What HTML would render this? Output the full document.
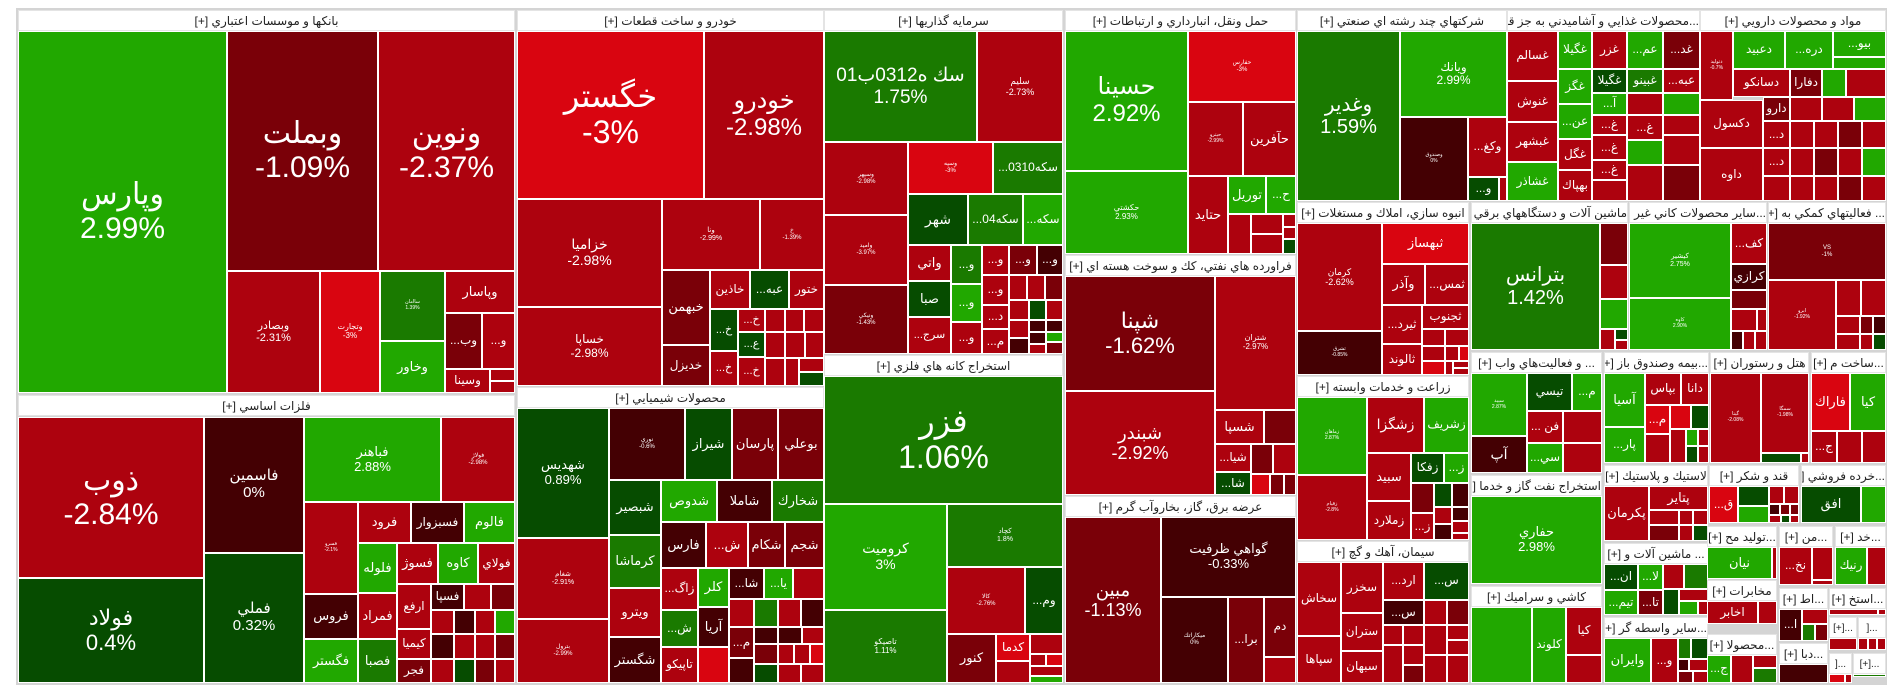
<!DOCTYPE html>
<html><head><meta charset="utf-8">
<style>
html,body{margin:0;padding:0;background:#fff;width:1904px;height:698px;overflow:hidden}
#bg{position:absolute;left:16px;top:8px;width:1871px;height:677px;background:#d4d4d4}
.t{position:absolute;box-sizing:border-box;border:1px solid #fff;color:#fff;display:flex;align-items:center;justify-content:center;text-align:center;font-family:"Liberation Sans","DejaVu Sans",sans-serif;font-size:12px;line-height:1.12;overflow:hidden;white-space:nowrap}
.h{position:absolute;box-sizing:border-box;height:21px;background:#fff;color:#222;font-family:"Liberation Sans","DejaVu Sans",sans-serif;font-size:12px;line-height:21px;text-align:center;overflow:hidden;white-space:nowrap;border:1px solid #e4e4e4;direction:rtl}
.a{background:#21a800}.b{background:#1a7a00}.c{background:#064c00}.d{background:#d90510}.e{background:#ad020e}.f{background:#7a0008}.k{background:#440003}
</style></head><body>
<div id="bg"></div>

<!-- Banks -->
<div class="h" style="left:18px;top:10px;width:497px">بانكها و موسسات اعتباري [+]</div>
<div class="t a" style="left:18px;top:31px;width:209px;height:362px;font-size:30px">وپارس<br>2.99%</div>
<div class="t f" style="left:227px;top:31px;width:151px;height:240px;font-size:30px">وبملت<br>-1.09%</div>
<div class="t e" style="left:378px;top:31px;width:137px;height:240px;font-size:30px">ونوين<br>-2.37%</div>
<div class="t e" style="left:227px;top:271px;width:93px;height:122px;font-size:11px">وبصادر<br>-2.31%</div>
<div class="t d" style="left:320px;top:271px;width:60px;height:122px;font-size:8px">وتجارت<br>-3%</div>
<div class="t b" style="left:380px;top:271px;width:65px;height:70px;font-size:5px">ساامان<br>1.39%</div>
<div class="t a" style="left:380px;top:341px;width:65px;height:52px;font-size:13px">وخاور</div>
<div class="t e" style="left:445px;top:271px;width:70px;height:42px;font-size:13px">وپاسار</div>
<div class="t f" style="left:445px;top:313px;width:37px;height:56px">...وب</div>
<div class="t e" style="left:482px;top:313px;width:33px;height:56px">...و</div>
<div class="t e" style="left:445px;top:369px;width:45px;height:24px">وسينا</div>
<div class="t e" style="left:490px;top:369px;width:25px;height:12px"></div>
<div class="t e" style="left:490px;top:381px;width:25px;height:12px"></div>

<!-- Metals -->
<div class="h" style="left:18px;top:395px;width:497px">فلزات اساسي [+]</div>
<div class="t e" style="left:18px;top:417px;width:186px;height:161px;font-size:30px">ذوب<br>-2.84%</div>
<div class="t c" style="left:18px;top:578px;width:186px;height:105px;font-size:22px">فولاد<br>0.4%</div>
<div class="t k" style="left:204px;top:417px;width:100px;height:136px;font-size:15px">فاسمين<br>0%</div>
<div class="t c" style="left:204px;top:553px;width:100px;height:130px;font-size:15px">فملي<br>0.32%</div>
<div class="t a" style="left:304px;top:417px;width:137px;height:85px;font-size:13px">فباهنر<br>2.88%</div>
<div class="t e" style="left:441px;top:417px;width:74px;height:85px;font-size:6px">فولاژ<br>-2.98%</div>
<div class="t e" style="left:304px;top:502px;width:54px;height:92px;font-size:5px">فسرو<br>-2.1%</div>
<div class="t k" style="left:304px;top:594px;width:54px;height:45px;font-size:13px">فروس</div>
<div class="t a" style="left:304px;top:639px;width:54px;height:44px;font-size:13px">فگستر</div>
<div class="t e" style="left:358px;top:502px;width:53px;height:41px;font-size:13px">فرود</div>
<div class="t k" style="left:411px;top:502px;width:53px;height:41px;font-size:12px">فسبزوار</div>
<div class="t a" style="left:464px;top:502px;width:51px;height:41px;font-size:13px">فالوم</div>
<div class="t a" style="left:358px;top:543px;width:39px;height:50px;font-size:13px">فلوله</div>
<div class="t e" style="left:358px;top:593px;width:39px;height:46px;font-size:13px">فمراد</div>
<div class="t b" style="left:358px;top:639px;width:39px;height:44px;font-size:13px">فصبا</div>
<div class="t e" style="left:397px;top:543px;width:41px;height:41px;font-size:13px">فسوژ</div>
<div class="t a" style="left:438px;top:543px;width:40px;height:41px;font-size:13px">كاوه</div>
<div class="t e" style="left:478px;top:543px;width:37px;height:41px;font-size:12px">فولاي</div>
<div class="t e" style="left:397px;top:584px;width:34px;height:45px;font-size:12px">ارفع</div>
<div class="t e" style="left:397px;top:629px;width:34px;height:30px;font-size:12px">كيميا</div>
<div class="t f" style="left:397px;top:659px;width:34px;height:24px;font-size:12px">فجر</div>
<div class="t k" style="left:431px;top:584px;width:33px;height:26px">فسپا</div>
<div class="t e" style="left:464px;top:584px;width:27px;height:26px"></div>
<div class="t f" style="left:491px;top:584px;width:24px;height:26px"></div>
<div class="t e" style="left:431px;top:610px;width:23px;height:24px"></div>
<div class="t k" style="left:454px;top:610px;width:21px;height:24px"></div>
<div class="t e" style="left:475px;top:610px;width:20px;height:24px"></div>
<div class="t a" style="left:495px;top:610px;width:20px;height:24px"></div>
<div class="t k" style="left:431px;top:634px;width:23px;height:25px"></div>
<div class="t e" style="left:454px;top:634px;width:21px;height:25px"></div>
<div class="t e" style="left:475px;top:634px;width:20px;height:25px"></div>
<div class="t f" style="left:495px;top:634px;width:20px;height:25px"></div>
<div class="t e" style="left:431px;top:659px;width:23px;height:24px"></div>
<div class="t c" style="left:454px;top:659px;width:21px;height:24px"></div>
<div class="t f" style="left:475px;top:659px;width:20px;height:24px"></div>
<div class="t e" style="left:495px;top:659px;width:20px;height:24px"></div>

<!-- Cars -->
<div class="h" style="left:517px;top:10px;width:307px">خودرو و ساخت قطعات [+]</div>
<div class="t d" style="left:517px;top:31px;width:187px;height:168px;font-size:32px">خگستر<br>-3%</div>
<div class="t e" style="left:704px;top:31px;width:120px;height:168px;font-size:24px">خودرو<br>-2.98%</div>
<div class="t e" style="left:517px;top:199px;width:145px;height:108px;font-size:14px">خزاميا<br>-2.98%</div>
<div class="t e" style="left:517px;top:307px;width:145px;height:79px;font-size:12px">خساپا<br>-2.98%</div>
<div class="t e" style="left:662px;top:199px;width:98px;height:71px;font-size:7px">ونا<br>-2.99%</div>
<div class="t e" style="left:760px;top:199px;width:64px;height:71px;font-size:6px">خ<br>-1.39%</div>
<div class="t f" style="left:662px;top:270px;width:48px;height:75px;font-size:13px">خبهمن</div>
<div class="t f" style="left:662px;top:345px;width:48px;height:41px;font-size:12px">خديزل</div>
<div class="t e" style="left:710px;top:270px;width:40px;height:39px">خاذين</div>
<div class="t c" style="left:750px;top:270px;width:39px;height:39px">...عبه</div>
<div class="t e" style="left:789px;top:270px;width:35px;height:39px">ختور</div>
<div class="t c" style="left:710px;top:309px;width:28px;height:42px;font-size:11px">...خ</div>
<div class="t e" style="left:738px;top:309px;width:27px;height:23px;font-size:11px">...خ</div>
<div class="t c" style="left:738px;top:332px;width:27px;height:25px;font-size:11px">...ع</div>
<div class="t e" style="left:710px;top:351px;width:28px;height:35px;font-size:11px">...خ</div>
<div class="t e" style="left:738px;top:357px;width:27px;height:29px;font-size:11px">...خ</div>
<div class="t e" style="left:765px;top:309px;width:20px;height:23px"></div>
<div class="t e" style="left:785px;top:309px;width:19px;height:23px"></div>
<div class="t e" style="left:804px;top:309px;width:20px;height:23px"></div>
<div class="t e" style="left:765px;top:332px;width:20px;height:26px"></div>
<div class="t e" style="left:785px;top:332px;width:20px;height:26px"></div>
<div class="t e" style="left:805px;top:332px;width:19px;height:26px"></div>
<div class="t e" style="left:765px;top:358px;width:20px;height:28px"></div>
<div class="t e" style="left:785px;top:358px;width:14px;height:28px"></div>
<div class="t e" style="left:799px;top:358px;width:25px;height:14px"></div>
<div class="t c" style="left:799px;top:372px;width:25px;height:14px"></div>

<!-- Chemicals -->
<div class="h" style="left:517px;top:387px;width:307px">محصولات شيميايي [+]</div>
<div class="t c" style="left:517px;top:408px;width:92px;height:130px;font-size:13px">شهديس<br>0.89%</div>
<div class="t e" style="left:517px;top:538px;width:92px;height:81px;font-size:7px">شغام<br>-2.91%</div>
<div class="t e" style="left:517px;top:619px;width:92px;height:64px;font-size:6px">بترول<br>-2.99%</div>
<div class="t k" style="left:609px;top:408px;width:76px;height:72px;font-size:6px">نوري<br>-0.6%</div>
<div class="t c" style="left:609px;top:480px;width:52px;height:55px;font-size:13px">شبصير</div>
<div class="t b" style="left:609px;top:535px;width:52px;height:53px;font-size:13px">كرماشا</div>
<div class="t e" style="left:609px;top:588px;width:52px;height:49px;font-size:13px">ويترو</div>
<div class="t k" style="left:609px;top:637px;width:52px;height:46px;font-size:13px">شگستر</div>
<div class="t c" style="left:685px;top:408px;width:47px;height:72px;font-size:13px">شيراز</div>
<div class="t f" style="left:732px;top:408px;width:46px;height:72px;font-size:13px">پارسان</div>
<div class="t f" style="left:778px;top:408px;width:46px;height:72px;font-size:13px">بوعلي</div>
<div class="t a" style="left:661px;top:480px;width:56px;height:42px;font-size:13px">شدوص</div>
<div class="t k" style="left:717px;top:480px;width:55px;height:42px;font-size:13px">شاملا</div>
<div class="t b" style="left:772px;top:480px;width:52px;height:42px;font-size:13px">شخارك</div>
<div class="t k" style="left:661px;top:522px;width:45px;height:46px;font-size:13px">فارس</div>
<div class="t e" style="left:706px;top:522px;width:42px;height:46px;font-size:13px">...ش</div>
<div class="t f" style="left:748px;top:522px;width:37px;height:46px;font-size:13px">شكام</div>
<div class="t f" style="left:785px;top:522px;width:39px;height:46px;font-size:13px">شجم</div>
<div class="t e" style="left:661px;top:568px;width:37px;height:42px">...زاگ</div>
<div class="t b" style="left:661px;top:610px;width:37px;height:37px">...ش</div>
<div class="t e" style="left:661px;top:647px;width:37px;height:36px">تاپيكو</div>
<div class="t a" style="left:698px;top:568px;width:31px;height:39px;font-size:13px">كلر</div>
<div class="t k" style="left:698px;top:607px;width:31px;height:40px;font-size:13px">آريا</div>
<div class="t d" style="left:698px;top:647px;width:31px;height:36px"></div>
<div class="t k" style="left:729px;top:568px;width:35px;height:31px">...شا</div>
<div class="t a" style="left:764px;top:568px;width:29px;height:31px">...يا</div>
<div class="t e" style="left:793px;top:568px;width:31px;height:31px"></div>
<div class="t e" style="left:729px;top:599px;width:25px;height:28px"></div>
<div class="t b" style="left:754px;top:599px;width:24px;height:28px"></div>
<div class="t e" style="left:778px;top:599px;width:23px;height:28px"></div>
<div class="t k" style="left:801px;top:599px;width:23px;height:28px"></div>
<div class="t f" style="left:729px;top:627px;width:25px;height:31px">...م</div>
<div class="t k" style="left:754px;top:627px;width:24px;height:17px"></div>
<div class="t k" style="left:778px;top:627px;width:24px;height:17px"></div>
<div class="t e" style="left:802px;top:627px;width:22px;height:17px"></div>
<div class="t f" style="left:754px;top:644px;width:24px;height:20px"></div>
<div class="t e" style="left:778px;top:644px;width:16px;height:20px"></div>
<div class="t e" style="left:794px;top:644px;width:16px;height:20px"></div>
<div class="t d" style="left:810px;top:644px;width:14px;height:20px"></div>
<div class="t k" style="left:729px;top:658px;width:25px;height:25px"></div>
<div class="t c" style="left:754px;top:664px;width:24px;height:19px"></div>
<div class="t e" style="left:778px;top:664px;width:23px;height:19px"></div>
<div class="t e" style="left:801px;top:664px;width:23px;height:19px"></div>

<!-- Investment -->
<div class="h" style="left:824px;top:10px;width:239px">سرمايه گذاريها [+]</div>
<div class="t b" style="left:824px;top:31px;width:153px;height:111px;font-size:19px">سك ه0312ب01<br>1.75%</div>
<div class="t e" style="left:977px;top:31px;width:86px;height:111px;font-size:9px">سليم<br>-2.73%</div>
<div class="t e" style="left:824px;top:142px;width:84px;height:73px;font-size:6px">وسپهر<br>-2.98%</div>
<div class="t e" style="left:824px;top:215px;width:84px;height:70px;font-size:6px">واميد<br>-3.97%</div>
<div class="t f" style="left:824px;top:285px;width:84px;height:69px;font-size:6px">ونيكي<br>-1.43%</div>
<div class="t d" style="left:908px;top:142px;width:85px;height:52px;font-size:6px">وسپه<br>-3%</div>
<div class="t b" style="left:993px;top:142px;width:70px;height:52px;font-size:12px">...سكه0310</div>
<div class="t c" style="left:908px;top:194px;width:60px;height:51px;font-size:14px">شهر</div>
<div class="t b" style="left:968px;top:194px;width:55px;height:51px">...سكه04</div>
<div class="t a" style="left:1023px;top:194px;width:40px;height:51px">...سكه</div>
<div class="t e" style="left:908px;top:245px;width:43px;height:36px;font-size:13px">واتي</div>
<div class="t c" style="left:908px;top:281px;width:43px;height:36px;font-size:13px">صبا</div>
<div class="t e" style="left:908px;top:317px;width:43px;height:37px;font-size:11px">...سرج</div>
<div class="t b" style="left:951px;top:245px;width:31px;height:39px">...و</div>
<div class="t a" style="left:951px;top:284px;width:31px;height:38px">...و</div>
<div class="t e" style="left:951px;top:322px;width:31px;height:32px">...و</div>
<div class="t e" style="left:982px;top:245px;width:27px;height:30px">...و</div>
<div class="t f" style="left:1009px;top:245px;width:28px;height:30px">...و</div>
<div class="t k" style="left:1037px;top:245px;width:26px;height:30px">...و</div>
<div class="t e" style="left:982px;top:275px;width:27px;height:30px">...و</div>
<div class="t e" style="left:1009px;top:275px;width:18px;height:25px"></div>
<div class="t e" style="left:1027px;top:275px;width:18px;height:25px"></div>
<div class="t f" style="left:1045px;top:275px;width:18px;height:25px"></div>
<div class="t e" style="left:982px;top:305px;width:27px;height:24px">...د</div>
<div class="t e" style="left:1009px;top:300px;width:20px;height:20px"></div>
<div class="t c" style="left:1029px;top:300px;width:17px;height:20px"></div>
<div class="t e" style="left:1046px;top:300px;width:17px;height:20px"></div>
<div class="t e" style="left:982px;top:329px;width:27px;height:25px">...م</div>
<div class="t e" style="left:1009px;top:320px;width:20px;height:18px"></div>
<div class="t k" style="left:1029px;top:320px;width:17px;height:12px"></div>
<div class="t k" style="left:1046px;top:320px;width:17px;height:12px"></div>
<div class="t k" style="left:1009px;top:338px;width:20px;height:16px"></div>
<div class="t k" style="left:1029px;top:332px;width:17px;height:12px"></div>
<div class="t a" style="left:1046px;top:332px;width:17px;height:10px"></div>
<div class="t e" style="left:1029px;top:344px;width:17px;height:10px"></div>
<div class="t f" style="left:1046px;top:342px;width:17px;height:12px"></div>

<!-- Metal ore -->
<div class="h" style="left:824px;top:355px;width:239px">استخراج كانه هاي فلزي [+]</div>
<div class="t b" style="left:824px;top:376px;width:239px;height:128px;font-size:32px">فزر<br>1.06%</div>
<div class="t a" style="left:824px;top:504px;width:123px;height:106px;font-size:14px">كروميت<br>3%</div>
<div class="t b" style="left:824px;top:610px;width:123px;height:73px;font-size:8px">تاصيكو<br>1.11%</div>
<div class="t b" style="left:947px;top:504px;width:116px;height:63px;font-size:7px">كچاد<br>1.8%</div>
<div class="t e" style="left:947px;top:567px;width:78px;height:67px;font-size:6px">كالا<br>-2.76%</div>
<div class="t c" style="left:1025px;top:567px;width:38px;height:67px;font-size:12px">...وم</div>
<div class="t f" style="left:947px;top:634px;width:49px;height:49px;font-size:13px">كنور</div>
<div class="t d" style="left:996px;top:634px;width:34px;height:27px">كدما</div>
<div class="t e" style="left:996px;top:661px;width:34px;height:22px"></div>
<div class="t e" style="left:1030px;top:634px;width:33px;height:20px"></div>
<div class="t e" style="left:1030px;top:654px;width:16px;height:12px"></div>
<div class="t d" style="left:1046px;top:654px;width:17px;height:12px"></div>
<div class="t e" style="left:1030px;top:666px;width:33px;height:10px"></div>
<div class="t a" style="left:1030px;top:676px;width:33px;height:7px"></div>

<!-- Transport -->
<div class="h" style="left:1065px;top:10px;width:231px">حمل ونقل، انبارداري و ارتباطات [+]</div>
<div class="t a" style="left:1065px;top:31px;width:123px;height:140px;font-size:24px">حسينا<br>2.92%</div>
<div class="t a" style="left:1065px;top:171px;width:123px;height:83px;font-size:8px">حكشتي<br>2.93%</div>
<div class="t d" style="left:1188px;top:31px;width:108px;height:71px;font-size:6px">حفارس<br>-3%</div>
<div class="t e" style="left:1188px;top:102px;width:55px;height:74px;font-size:5px">حپترو<br>-2.99%</div>
<div class="t e" style="left:1243px;top:102px;width:53px;height:74px;font-size:13px">حآفرين</div>
<div class="t e" style="left:1188px;top:176px;width:40px;height:78px;font-size:13px">حتايد</div>
<div class="t a" style="left:1228px;top:176px;width:38px;height:38px;font-size:13px">توريل</div>
<div class="t a" style="left:1266px;top:176px;width:30px;height:38px">...ح</div>
<div class="t e" style="left:1228px;top:214px;width:23px;height:40px"></div>
<div class="t e" style="left:1251px;top:214px;width:32px;height:20px"></div>
<div class="t e" style="left:1251px;top:234px;width:32px;height:20px"></div>
<div class="t e" style="left:1283px;top:214px;width:13px;height:13px"></div>
<div class="t e" style="left:1283px;top:227px;width:13px;height:12px"></div>
<div class="t c" style="left:1283px;top:239px;width:13px;height:15px"></div>

<!-- Oil products -->
<div class="h" style="left:1065px;top:255px;width:231px">فراورده هاي نفتي، كك و سوخت هسته اي [+]</div>
<div class="t f" style="left:1065px;top:276px;width:150px;height:115px;font-size:22px">شپنا<br>-1.62%</div>
<div class="t e" style="left:1065px;top:391px;width:150px;height:104px;font-size:18px">شبندر<br>-2.92%</div>
<div class="t e" style="left:1215px;top:276px;width:81px;height:134px;font-size:8px">شتران<br>-2.97%</div>
<div class="t e" style="left:1215px;top:410px;width:49px;height:34px;font-size:13px">شسپا</div>
<div class="t f" style="left:1264px;top:410px;width:32px;height:34px"></div>
<div class="t e" style="left:1215px;top:444px;width:36px;height:28px">...شيا</div>
<div class="t f" style="left:1251px;top:444px;width:22px;height:30px"></div>
<div class="t e" style="left:1273px;top:444px;width:23px;height:30px"></div>
<div class="t c" style="left:1215px;top:472px;width:36px;height:23px">...شا</div>
<div class="t d" style="left:1251px;top:474px;width:19px;height:21px"></div>
<div class="t f" style="left:1270px;top:474px;width:14px;height:21px"></div>
<div class="t f" style="left:1284px;top:474px;width:12px;height:21px"></div>

<!-- Electricity -->
<div class="h" style="left:1065px;top:496px;width:231px">عرضه برق، گاز، بخاروآب گرم [+]</div>
<div class="t f" style="left:1065px;top:517px;width:96px;height:166px;font-size:18px">مبين<br>-1.13%</div>
<div class="t k" style="left:1161px;top:517px;width:135px;height:80px;font-size:13px">گواهي ظرفيت<br>-0.33%</div>
<div class="t k" style="left:1161px;top:597px;width:67px;height:86px;font-size:6px">ميكاراتك<br>0%</div>
<div class="t f" style="left:1228px;top:597px;width:36px;height:86px">...برا</div>
<div class="t f" style="left:1264px;top:597px;width:32px;height:60px">دم</div>
<div class="t e" style="left:1264px;top:657px;width:32px;height:26px"></div>

<!-- Multi-industry -->
<div class="h" style="left:1297px;top:10px;width:210px">شركتهاي چند رشته اي صنعتي [+]</div>
<div class="t b" style="left:1297px;top:31px;width:103px;height:170px;font-size:20px">وغدير<br>1.59%</div>
<div class="t a" style="left:1400px;top:31px;width:107px;height:86px;font-size:12px">ويانك<br>2.99%</div>
<div class="t k" style="left:1400px;top:117px;width:68px;height:84px;font-size:5px">وصندوق<br>0%</div>
<div class="t e" style="left:1468px;top:117px;width:39px;height:60px;font-size:12px">...وكغ</div>
<div class="t c" style="left:1468px;top:177px;width:31px;height:24px">...و</div>
<div class="t e" style="left:1499px;top:177px;width:8px;height:24px"></div>

<!-- Mass construction -->
<div class="h" style="left:1297px;top:202px;width:172px">انبوه سازي، املاك و مستغلات [+]</div>
<div class="t e" style="left:1297px;top:223px;width:85px;height:108px;font-size:9px">كرمان<br>-2.62%</div>
<div class="t k" style="left:1297px;top:331px;width:85px;height:44px;font-size:5px">ثشرق<br>-0.85%</div>
<div class="t d" style="left:1382px;top:223px;width:87px;height:41px;font-size:13px">ثبهساز</div>
<div class="t e" style="left:1382px;top:264px;width:43px;height:41px;font-size:13px">وآذر</div>
<div class="t e" style="left:1425px;top:264px;width:44px;height:41px">...ثمس</div>
<div class="t e" style="left:1382px;top:305px;width:40px;height:39px">...ثيرد</div>
<div class="t e" style="left:1422px;top:305px;width:47px;height:24px">ثجنوب</div>
<div class="t e" style="left:1382px;top:344px;width:40px;height:31px">ثالوند</div>
<div class="t e" style="left:1422px;top:329px;width:23px;height:17px"></div>
<div class="t e" style="left:1445px;top:329px;width:24px;height:17px"></div>
<div class="t e" style="left:1422px;top:346px;width:23px;height:15px"></div>
<div class="t e" style="left:1445px;top:346px;width:14px;height:15px"></div>
<div class="t d" style="left:1459px;top:346px;width:10px;height:15px"></div>
<div class="t d" style="left:1422px;top:361px;width:23px;height:14px"></div>
<div class="t e" style="left:1445px;top:361px;width:8px;height:14px"></div>
<div class="t e" style="left:1453px;top:361px;width:16px;height:7px"></div>
<div class="t e" style="left:1453px;top:368px;width:16px;height:7px"></div>

<!-- Agriculture -->
<div class="h" style="left:1297px;top:376px;width:172px">زراعت و خدمات وابسته [+]</div>
<div class="t a" style="left:1297px;top:397px;width:70px;height:78px;font-size:5px">زماهان<br>2.87%</div>
<div class="t e" style="left:1297px;top:475px;width:70px;height:65px;font-size:5px">زقيام<br>-2.8%</div>
<div class="t e" style="left:1367px;top:397px;width:57px;height:56px;font-size:14px">زشگزا</div>
<div class="t a" style="left:1424px;top:397px;width:45px;height:56px">زشريف</div>
<div class="t e" style="left:1367px;top:453px;width:44px;height:48px;font-size:13px">سبيد</div>
<div class="t e" style="left:1367px;top:501px;width:44px;height:39px">زملارد</div>
<div class="t c" style="left:1411px;top:453px;width:33px;height:30px">زفكا</div>
<div class="t a" style="left:1444px;top:453px;width:25px;height:30px">...ز</div>
<div class="t f" style="left:1411px;top:483px;width:23px;height:30px"></div>
<div class="t c" style="left:1434px;top:483px;width:18px;height:24px"></div>
<div class="t k" style="left:1452px;top:483px;width:17px;height:24px"></div>
<div class="t e" style="left:1411px;top:513px;width:23px;height:27px">...ز</div>
<div class="t e" style="left:1434px;top:507px;width:18px;height:17px"></div>
<div class="t k" style="left:1452px;top:507px;width:17px;height:14px"></div>
<div class="t k" style="left:1434px;top:524px;width:18px;height:16px"></div>
<div class="t e" style="left:1452px;top:521px;width:17px;height:12px"></div>
<div class="t e" style="left:1452px;top:533px;width:17px;height:7px"></div>

<!-- Cement -->
<div class="h" style="left:1297px;top:541px;width:172px">سيمان، آهك و گچ [+]</div>
<div class="t e" style="left:1297px;top:562px;width:44px;height:74px">سخاش</div>
<div class="t e" style="left:1297px;top:636px;width:44px;height:47px">سپاها</div>
<div class="t e" style="left:1341px;top:562px;width:42px;height:51px">سخزر</div>
<div class="t e" style="left:1341px;top:613px;width:42px;height:38px">ستران</div>
<div class="t e" style="left:1341px;top:651px;width:42px;height:32px">سبهان</div>
<div class="t e" style="left:1383px;top:562px;width:41px;height:38px">...ارد</div>
<div class="t k" style="left:1383px;top:600px;width:41px;height:25px">...س</div>
<div class="t e" style="left:1383px;top:625px;width:20px;height:20px"></div>
<div class="t e" style="left:1403px;top:625px;width:21px;height:20px"></div>
<div class="t e" style="left:1383px;top:645px;width:20px;height:38px"></div>
<div class="t e" style="left:1403px;top:645px;width:21px;height:20px"></div>
<div class="t f" style="left:1403px;top:665px;width:21px;height:18px"></div>
<div class="t c" style="left:1424px;top:562px;width:45px;height:38px">...س</div>
<div class="t e" style="left:1424px;top:600px;width:23px;height:25px"></div>
<div class="t f" style="left:1447px;top:600px;width:22px;height:25px"></div>
<div class="t e" style="left:1424px;top:625px;width:23px;height:30px"></div>
<div class="t e" style="left:1447px;top:625px;width:22px;height:15px"></div>
<div class="t e" style="left:1447px;top:640px;width:22px;height:15px"></div>
<div class="t e" style="left:1424px;top:655px;width:23px;height:28px"></div>
<div class="t e" style="left:1447px;top:655px;width:22px;height:28px"></div>

<!-- Food -->
<div class="h" style="left:1507px;top:10px;width:193px">...محصولات غذايي و آشاميدني به جز قن [+]</div>
<div class="t e" style="left:1507px;top:31px;width:51px;height:50px">غسالم</div>
<div class="t e" style="left:1507px;top:81px;width:51px;height:41px">غنوش</div>
<div class="t e" style="left:1507px;top:122px;width:51px;height:40px">غبشهر</div>
<div class="t a" style="left:1507px;top:162px;width:51px;height:39px">غشاذر</div>
<div class="t a" style="left:1558px;top:31px;width:34px;height:38px">غگيلا</div>
<div class="t a" style="left:1558px;top:69px;width:34px;height:35px">غگز</div>
<div class="t a" style="left:1558px;top:104px;width:34px;height:35px">...عن</div>
<div class="t e" style="left:1558px;top:139px;width:34px;height:31px">غگل</div>
<div class="t e" style="left:1558px;top:170px;width:34px;height:31px">بهپاك</div>
<div class="t e" style="left:1592px;top:31px;width:35px;height:38px">غزر</div>
<div class="t c" style="left:1592px;top:69px;width:35px;height:24px">غگيلا</div>
<div class="t a" style="left:1592px;top:93px;width:35px;height:22px">...آ</div>
<div class="t e" style="left:1592px;top:115px;width:35px;height:20px">...غ</div>
<div class="t e" style="left:1592px;top:135px;width:35px;height:25px">...غ</div>
<div class="t e" style="left:1592px;top:160px;width:35px;height:20px">...غ</div>
<div class="t e" style="left:1592px;top:180px;width:35px;height:21px"></div>
<div class="t a" style="left:1627px;top:31px;width:36px;height:38px">...عم</div>
<div class="t b" style="left:1627px;top:69px;width:36px;height:24px">غبينو</div>
<div class="t e" style="left:1627px;top:93px;width:36px;height:22px"></div>
<div class="t e" style="left:1627px;top:115px;width:36px;height:25px">...غ</div>
<div class="t a" style="left:1627px;top:140px;width:36px;height:25px"></div>
<div class="t e" style="left:1627px;top:165px;width:36px;height:36px"></div>
<div class="t f" style="left:1663px;top:31px;width:37px;height:38px">...غد</div>
<div class="t e" style="left:1663px;top:69px;width:37px;height:24px">...عبه</div>
<div class="t a" style="left:1663px;top:93px;width:37px;height:22px"></div>
<div class="t e" style="left:1663px;top:115px;width:37px;height:20px"></div>
<div class="t e" style="left:1663px;top:135px;width:37px;height:30px"></div>
<div class="t f" style="left:1663px;top:165px;width:37px;height:36px"></div>

<!-- Pharma -->
<div class="h" style="left:1700px;top:10px;width:186px">مواد و محصولات دارويي [+]</div>
<div class="t e" style="left:1700px;top:31px;width:33px;height:69px;font-size:5px">دتوليد<br>-0.7%</div>
<div class="t a" style="left:1733px;top:31px;width:52px;height:38px">دعبيد</div>
<div class="t a" style="left:1785px;top:31px;width:48px;height:38px">...دره</div>
<div class="t a" style="left:1833px;top:31px;width:53px;height:26px">...بيو</div>
<div class="t a" style="left:1833px;top:57px;width:53px;height:12px"></div>
<div class="t e" style="left:1733px;top:69px;width:57px;height:28px">دسانكو</div>
<div class="t f" style="left:1790px;top:69px;width:32px;height:28px">دفارا</div>
<div class="t a" style="left:1822px;top:69px;width:24px;height:28px"></div>
<div class="t e" style="left:1846px;top:69px;width:40px;height:28px"></div>
<div class="t e" style="left:1700px;top:100px;width:63px;height:48px">دكسول</div>
<div class="t e" style="left:1700px;top:148px;width:63px;height:53px">داوه</div>
<div class="t f" style="left:1763px;top:97px;width:27px;height:24px">دارو</div>
<div class="t e" style="left:1790px;top:97px;width:32px;height:24px"></div>
<div class="t e" style="left:1822px;top:97px;width:32px;height:24px"></div>
<div class="t a" style="left:1854px;top:97px;width:32px;height:24px"></div>
<div class="t e" style="left:1763px;top:121px;width:27px;height:27px">...د</div>
<div class="t e" style="left:1790px;top:121px;width:24px;height:27px"></div>
<div class="t e" style="left:1814px;top:121px;width:24px;height:27px"></div>
<div class="t f" style="left:1838px;top:121px;width:24px;height:27px"></div>
<div class="t e" style="left:1862px;top:121px;width:24px;height:27px"></div>
<div class="t e" style="left:1763px;top:148px;width:27px;height:28px">...د</div>
<div class="t e" style="left:1790px;top:148px;width:24px;height:28px"></div>
<div class="t f" style="left:1814px;top:148px;width:24px;height:28px"></div>
<div class="t e" style="left:1838px;top:148px;width:24px;height:28px"></div>
<div class="t a" style="left:1862px;top:148px;width:24px;height:28px"></div>
<div class="t e" style="left:1763px;top:176px;width:27px;height:25px"></div>
<div class="t e" style="left:1790px;top:176px;width:24px;height:25px"></div>
<div class="t e" style="left:1814px;top:176px;width:24px;height:25px"></div>
<div class="t f" style="left:1838px;top:176px;width:24px;height:25px"></div>
<div class="t e" style="left:1862px;top:176px;width:24px;height:25px"></div>

<!-- Electric machinery -->
<div class="h" style="left:1471px;top:202px;width:157px">ماشين آلات و دستگاههاي برقي [+]</div>
<div class="t b" style="left:1471px;top:223px;width:129px;height:127px;font-size:20px">بترانس<br>1.42%</div>
<div class="t f" style="left:1600px;top:223px;width:28px;height:42px"></div>
<div class="t e" style="left:1600px;top:265px;width:28px;height:34px"></div>
<div class="t a" style="left:1600px;top:299px;width:28px;height:30px"></div>
<div class="t e" style="left:1600px;top:329px;width:15px;height:21px"></div>
<div class="t c" style="left:1615px;top:329px;width:13px;height:11px"></div>
<div class="t e" style="left:1615px;top:340px;width:13px;height:10px"></div>

<!-- Other mineral -->
<div class="h" style="left:1629px;top:202px;width:138px">...ساير محصولات كاني غير [+]</div>
<div class="t a" style="left:1629px;top:223px;width:102px;height:75px;font-size:7px">كيشير<br>2.75%</div>
<div class="t a" style="left:1629px;top:298px;width:102px;height:52px;font-size:5px">كاوه<br>2.90%</div>
<div class="t e" style="left:1731px;top:223px;width:36px;height:41px">...كف</div>
<div class="t k" style="left:1731px;top:264px;width:36px;height:26px">كرازي</div>
<div class="t f" style="left:1731px;top:290px;width:36px;height:19px"></div>
<div class="t e" style="left:1731px;top:309px;width:26px;height:22px"></div>
<div class="t e" style="left:1757px;top:309px;width:10px;height:22px"></div>
<div class="t k" style="left:1731px;top:331px;width:12px;height:19px"></div>
<div class="t e" style="left:1743px;top:331px;width:12px;height:19px"></div>
<div class="t e" style="left:1755px;top:331px;width:12px;height:19px"></div>

<!-- Support -->
<div class="h" style="left:1768px;top:202px;width:118px">... فعاليتهاي كمكي به [+]</div>
<div class="t f" style="left:1768px;top:223px;width:118px;height:57px;font-size:6px">VS<br>-1%</div>
<div class="t e" style="left:1768px;top:280px;width:68px;height:70px;font-size:5px">ابرو<br>-1.92%</div>
<div class="t e" style="left:1836px;top:280px;width:25px;height:36px"></div>
<div class="t e" style="left:1861px;top:280px;width:25px;height:36px"></div>
<div class="t e" style="left:1836px;top:316px;width:24px;height:18px"></div>
<div class="t f" style="left:1860px;top:316px;width:13px;height:18px"></div>
<div class="t k" style="left:1873px;top:316px;width:13px;height:18px"></div>
<div class="t e" style="left:1836px;top:334px;width:24px;height:16px"></div>
<div class="t e" style="left:1860px;top:334px;width:13px;height:16px"></div>
<div class="t c" style="left:1873px;top:334px;width:13px;height:16px"></div>

<!-- Water -->
<div class="h" style="left:1471px;top:352px;width:131px">... و فعاليت‌هاي واب [+]</div>
<div class="t a" style="left:1471px;top:373px;width:56px;height:63px;font-size:5px">سپيد<br>2.87%</div>
<div class="t c" style="left:1527px;top:373px;width:45px;height:38px">تيسي</div>
<div class="t a" style="left:1572px;top:373px;width:30px;height:38px">...م</div>
<div class="t e" style="left:1527px;top:411px;width:36px;height:32px">... فن</div>
<div class="t e" style="left:1563px;top:411px;width:39px;height:32px"></div>
<div class="t k" style="left:1471px;top:436px;width:56px;height:37px;font-size:14px">آپ</div>
<div class="t a" style="left:1527px;top:443px;width:36px;height:30px">...سي</div>
<div class="t e" style="left:1563px;top:443px;width:39px;height:30px"></div>

<!-- Oil extraction -->
<div class="h" style="left:1471px;top:475px;width:131px">استخراج نفت گاز و خدما [+]</div>
<div class="t a" style="left:1471px;top:496px;width:131px;height:88px;font-size:13px">حفاري<br>2.98%</div>

<!-- Kashi -->
<div class="h" style="left:1471px;top:586px;width:131px">كاشي و سراميك [+]</div>
<div class="t a" style="left:1471px;top:607px;width:61px;height:76px"></div>
<div class="t a" style="left:1532px;top:607px;width:34px;height:76px">كلوند</div>
<div class="t e" style="left:1566px;top:607px;width:36px;height:48px">كيا</div>
<div class="t e" style="left:1566px;top:655px;width:36px;height:28px"></div>

<!-- Insurance -->
<div class="h" style="left:1604px;top:352px;width:105px">...بيمه وصندوق باز [+]</div>
<div class="t a" style="left:1604px;top:373px;width:41px;height:54px;font-size:13px">آسيا</div>
<div class="t a" style="left:1604px;top:427px;width:41px;height:36px">...پار</div>
<div class="t e" style="left:1645px;top:373px;width:36px;height:32px">بپاس</div>
<div class="t e" style="left:1681px;top:373px;width:28px;height:32px">دانا</div>
<div class="t d" style="left:1645px;top:405px;width:25px;height:29px">...م</div>
<div class="t d" style="left:1670px;top:405px;width:21px;height:24px"></div>
<div class="t c" style="left:1691px;top:405px;width:18px;height:24px"></div>
<div class="t e" style="left:1645px;top:434px;width:25px;height:29px"></div>
<div class="t e" style="left:1670px;top:429px;width:16px;height:34px"></div>
<div class="t a" style="left:1686px;top:429px;width:12px;height:17px"></div>
<div class="t e" style="left:1698px;top:429px;width:11px;height:17px"></div>
<div class="t c" style="left:1686px;top:446px;width:12px;height:17px"></div>
<div class="t e" style="left:1698px;top:446px;width:11px;height:17px"></div>

<!-- Hotel -->
<div class="h" style="left:1710px;top:352px;width:99px">هتل و رستوران [+]</div>
<div class="t e" style="left:1710px;top:373px;width:51px;height:90px;font-size:5px">گيتا<br>-2.08%</div>
<div class="t e" style="left:1761px;top:373px;width:48px;height:80px;font-size:5px">سمگا<br>-1.98%</div>
<div class="t c" style="left:1761px;top:453px;width:40px;height:10px"></div>
<div class="t e" style="left:1801px;top:453px;width:8px;height:10px"></div>

<!-- Construction -->
<div class="h" style="left:1811px;top:352px;width:75px">...ساخت م [+]</div>
<div class="t d" style="left:1811px;top:373px;width:39px;height:58px;font-size:13px">فاراك</div>
<div class="t a" style="left:1850px;top:373px;width:36px;height:58px;font-size:13px">كيا</div>
<div class="t e" style="left:1811px;top:431px;width:26px;height:32px">...ج</div>
<div class="t e" style="left:1837px;top:431px;width:25px;height:32px"></div>
<div class="t e" style="left:1862px;top:431px;width:24px;height:32px"></div>

<!-- Rubber -->
<div class="h" style="left:1604px;top:465px;width:104px">لاستيك و پلاستيك [+]</div>
<div class="t e" style="left:1604px;top:486px;width:45px;height:55px;font-size:13px">پكرمان</div>
<div class="t e" style="left:1649px;top:486px;width:59px;height:24px;font-size:13px">پتاير</div>
<div class="t e" style="left:1649px;top:510px;width:30px;height:15px"></div>
<div class="t e" style="left:1679px;top:510px;width:14px;height:15px"></div>
<div class="t e" style="left:1693px;top:510px;width:15px;height:15px"></div>
<div class="t f" style="left:1649px;top:525px;width:30px;height:16px"></div>
<div class="t e" style="left:1679px;top:525px;width:14px;height:16px"></div>
<div class="t c" style="left:1693px;top:525px;width:15px;height:16px"></div>

<!-- Machinery -->
<div class="h" style="left:1604px;top:543px;width:104px">... ماشين آلات و [+]</div>
<div class="t c" style="left:1604px;top:564px;width:34px;height:26px">...ان</div>
<div class="t a" style="left:1604px;top:590px;width:34px;height:25px">...تيم</div>
<div class="t a" style="left:1638px;top:564px;width:25px;height:26px">...لا</div>
<div class="t f" style="left:1638px;top:590px;width:25px;height:25px">...تا</div>
<div class="t e" style="left:1663px;top:564px;width:21px;height:25px"></div>
<div class="t b" style="left:1684px;top:564px;width:24px;height:25px"></div>
<div class="t c" style="left:1663px;top:589px;width:16px;height:26px"></div>
<div class="t e" style="left:1679px;top:589px;width:29px;height:12px"></div>
<div class="t a" style="left:1679px;top:601px;width:19px;height:14px"></div>
<div class="t e" style="left:1698px;top:601px;width:10px;height:14px"></div>

<!-- Other intermediaries -->
<div class="h" style="left:1604px;top:617px;width:104px">...ساير واسطه گر [+]</div>
<div class="t a" style="left:1604px;top:638px;width:47px;height:45px;font-size:13px">وايران</div>
<div class="t e" style="left:1651px;top:638px;width:27px;height:45px">...و</div>
<div class="t b" style="left:1678px;top:638px;width:13px;height:21px"></div>
<div class="t c" style="left:1691px;top:638px;width:17px;height:21px"></div>
<div class="t k" style="left:1678px;top:659px;width:11px;height:12px"></div>
<div class="t e" style="left:1689px;top:659px;width:19px;height:12px"></div>
<div class="t f" style="left:1678px;top:671px;width:15px;height:12px"></div>
<div class="t e" style="left:1693px;top:671px;width:15px;height:12px"></div>

<!-- Sugar -->
<div class="h" style="left:1709px;top:465px;width:90px">قند و شكر [+]</div>
<div class="t d" style="left:1709px;top:486px;width:29px;height:37px">...ق</div>
<div class="t c" style="left:1738px;top:486px;width:31px;height:20px"></div>
<div class="t a" style="left:1738px;top:506px;width:31px;height:17px"></div>
<div class="t e" style="left:1769px;top:486px;width:15px;height:18px"></div>
<div class="t e" style="left:1784px;top:486px;width:15px;height:18px"></div>
<div class="t k" style="left:1769px;top:504px;width:11px;height:11px"></div>
<div class="t f" style="left:1780px;top:504px;width:10px;height:11px"></div>
<div class="t f" style="left:1790px;top:504px;width:9px;height:11px"></div>
<div class="t e" style="left:1769px;top:515px;width:12px;height:8px"></div>
<div class="t c" style="left:1781px;top:515px;width:9px;height:8px"></div>
<div class="t e" style="left:1790px;top:515px;width:9px;height:8px"></div>

<!-- Retail -->
<div class="h" style="left:1801px;top:465px;width:85px">...خرده فروشي [+]</div>
<div class="t c" style="left:1801px;top:486px;width:60px;height:37px;font-size:13px">افق</div>
<div class="t a" style="left:1861px;top:486px;width:25px;height:37px"></div>

<!-- Production -->
<div class="h" style="left:1707px;top:526px;width:70px">...توليد مح [+]</div>
<div class="t a" style="left:1707px;top:547px;width:65px;height:32px;font-size:13px">نيان</div>
<div class="t e" style="left:1772px;top:547px;width:5px;height:32px"></div>
<div class="h" style="left:1779px;top:526px;width:54px">...من [+]</div>
<div class="t e" style="left:1779px;top:547px;width:33px;height:38px">...نخ</div>
<div class="t e" style="left:1812px;top:547px;width:21px;height:33px"></div>
<div class="t e" style="left:1812px;top:580px;width:21px;height:5px"></div>
<div class="h" style="left:1835px;top:526px;width:51px">...خد [+]</div>
<div class="t a" style="left:1835px;top:547px;width:32px;height:38px">رنيك</div>
<div class="t e" style="left:1867px;top:547px;width:19px;height:38px"></div>

<!-- Telecom -->
<div class="h" style="left:1707px;top:580px;width:70px">مخابرات [+]</div>
<div class="t e" style="left:1707px;top:601px;width:51px;height:23px">اخابر</div>
<div class="t e" style="left:1758px;top:601px;width:19px;height:23px"></div>
<div class="h" style="left:1707px;top:634px;width:70px">...محصولا [+]</div>
<div class="t a" style="left:1707px;top:655px;width:24px;height:28px">...ج</div>
<div class="t e" style="left:1731px;top:655px;width:22px;height:28px"></div>
<div class="t e" style="left:1753px;top:655px;width:24px;height:13px"></div>
<div class="t b" style="left:1753px;top:668px;width:24px;height:15px"></div>

<div class="h" style="left:1779px;top:588px;width:49px">...اط [+]</div>
<div class="t k" style="left:1779px;top:609px;width:23px;height:32px">...ا</div>
<div class="t e" style="left:1802px;top:609px;width:26px;height:15px"></div>
<div class="t b" style="left:1802px;top:624px;width:13px;height:17px"></div>
<div class="t f" style="left:1815px;top:624px;width:13px;height:17px"></div>
<div class="h" style="left:1779px;top:643px;width:49px">...دبا [+]</div>
<div class="t k" style="left:1779px;top:664px;width:49px;height:19px"></div>

<div class="h" style="left:1829px;top:588px;width:57px">...استخ [+]</div>
<div class="t e" style="left:1829px;top:609px;width:49px;height:6px"></div>
<div class="t e" style="left:1878px;top:609px;width:8px;height:6px"></div>
<div class="h" style="left:1829px;top:617px;width:28px;font-size:10px">...[+]</div>
<div class="t e" style="left:1829px;top:638px;width:28px;height:12px"></div>
<div class="h" style="left:1858px;top:617px;width:28px;font-size:10px">...[</div>
<div class="t e" style="left:1858px;top:638px;width:10px;height:12px"></div>
<div class="t e" style="left:1868px;top:638px;width:9px;height:12px"></div>
<div class="t e" style="left:1877px;top:638px;width:9px;height:12px"></div>
<div class="h" style="left:1829px;top:653px;width:23px;font-size:10px">...[</div>
<div class="t d" style="left:1829px;top:674px;width:16px;height:9px"></div>
<div class="t e" style="left:1845px;top:674px;width:7px;height:9px"></div>
<div class="h" style="left:1853px;top:653px;width:33px;font-size:10px">...[+]</div>
<div class="t b" style="left:1853px;top:674px;width:33px;height:3px"></div>
</body></html>
